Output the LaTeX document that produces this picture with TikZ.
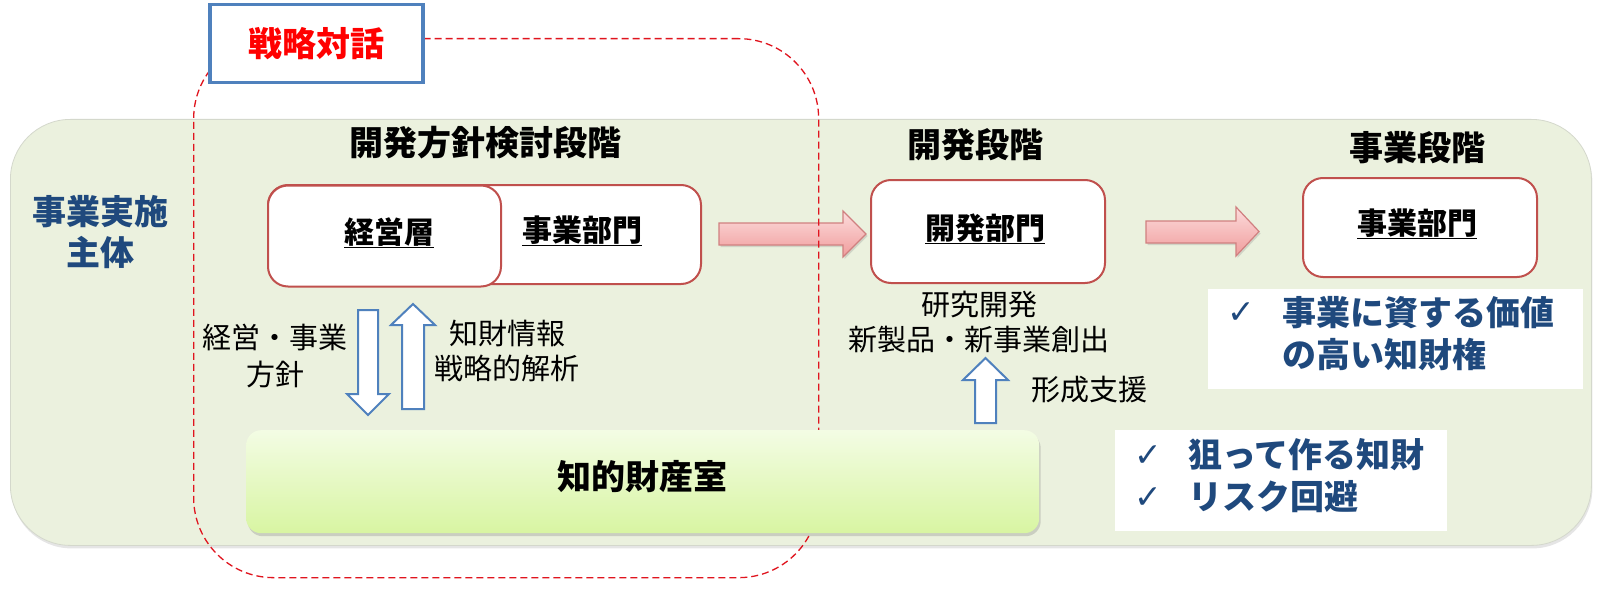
\documentclass[tikz,border=0pt]{standalone}
\usepackage{fontspec}
\setmainfont{Noto Sans CJK JP}
\newfontfamily\symfont{DejaVu Sans}
\usetikzlibrary{shadows}
\definecolor{bgG}{HTML}{EBF1DE}
\definecolor{bgLine}{HTML}{D4D8CC}
\definecolor{boxRed}{HTML}{C0504D}
\definecolor{aBlue}{HTML}{4F81BD}
\definecolor{dBlue}{HTML}{1F497D}
\definecolor{pinkTop}{HTML}{FCDCDC}
\definecolor{pinkBot}{HTML}{F09C9C}
\definecolor{pinkLine}{HTML}{D08080}
\definecolor{gTop}{HTML}{F3FCE4}
\definecolor{gBot}{HTML}{D8F5A2}
\definecolor{dashRed}{HTML}{E0141E}
\newcommand\fs[2]{\fontsize{#1}{#2}\selectfont}
\begin{document}
\begin{tikzpicture}[x=1pt,y=-1pt,
  rbox/.style={draw=boxRed, line width=2pt, fill=white, rounded corners=20pt, inner sep=0pt, anchor=north west},
  blockarrow/.style={draw=aBlue, line width=2pt, fill=white, line join=miter},
  pinkarrow/.style={draw=pinkLine, line width=1.2pt, top color=pinkTop, bottom color=pinkBot,
    drop shadow={opacity=0.25, shadow xshift=1.5pt, shadow yshift=-2pt}},
  lbl/.style={inner sep=0pt, align=center},
  head/.style={inner sep=0pt, font=\fs{34}{40}\bfseries},
  ul/.style={inner sep=0pt, anchor=base, font=\fs{30}{36}\bfseries},
  chk/.style={inner sep=0pt, text=dBlue, font=\fs{34}{42}\bfseries, align=left, anchor=west},
  tick/.style={inner sep=0pt, text=dBlue, font=\symfont\fs{33}{33}},
  notebox/.style={fill=white, inner sep=0pt, anchor=north west},
]
\useasboundingbox (0,0) rectangle (1600,591);
\fill[white] (0,0) rectangle (1600,591);

% stage background
\node[draw=bgLine, line width=0.8pt, fill=bgG, rounded corners=60pt, inner sep=0pt, anchor=north west,
  minimum width=1581pt, minimum height=426pt,
  drop shadow={opacity=0.2, shadow xshift=1pt, shadow yshift=-3pt}] (stage) at (10,119) {};

% headings
\node[head] (stage1) at (485,143) {開発方針検討段階};
\node[head] (stage2) at (975,145) {開発段階};
\node[head] (stage3) at (1417,148) {事業段階};
\node[head, text=dBlue, align=center, font=\fs{34}{41}\bfseries] (actor) at (100,232.5) {事業実施\\主体};

% organisation boxes
\node[rbox, minimum width=433pt, minimum height=99pt] (bizL) at (267,184) {};
\node[rbox, minimum width=233pt, minimum height=101pt] (mgmt) at (267,184.5) {};
\node[ul] (mgmtT) at (389,243) {\underline{経営層}};
\node[ul] (bizLT) at (582,241) {\underline{事業部門}};
\node[rbox, minimum width=234pt, minimum height=103pt] (dev) at (870,179) {};
\node[ul] (devT) at (985,239) {\underline{開発部門}};
\node[rbox, minimum width=234pt, minimum height=99pt] (bizR) at (1302,177) {};
\node[ul] (bizRT) at (1417,234) {\underline{事業部門}};

% notes
\node[notebox, minimum width=375pt, minimum height=100pt] (note1) at (1208,289) {};
\node[tick] (tick1) at (1241,313) {✓};
\node[chk] (note1T) at (1282,334) {事業に資する価値\\の高い知財権};
\node[notebox, minimum width=332pt, minimum height=101pt] (note2) at (1115,430) {};
\node[tick] (tick2) at (1148,456) {✓};
\node[tick] (tick3) at (1148,498) {✓};
\node[chk] (note2T) at (1188,476) {狙って作る知財\\リスク回避};

% labels
\node[lbl, font=\fs{29}{37}] (lblPolicy) at (275,356.5) {経営・事業\\方針};
\node[lbl, font=\fs{29}{35}] (lblInfo) at (507,350.5) {知財情報\\戦略的解析};
\node[lbl, font=\fs{29}{35}] (lblRD) at (979,322.5) {研究開発\\新製品・新事業創出};
\node[lbl, font=\fs{29}{35}] (lblSup) at (1089,390) {形成支援};

% blue hollow arrows
\draw[blockarrow] (358,310) -- (378,310) -- (378,394) -- (389,394) -- (368,415) -- (347,394) -- (358,394) -- cycle;
\draw[blockarrow] (402,409) -- (424,409) -- (424,325) -- (435,325) -- (413,304) -- (391,325) -- (402,325) -- cycle;
\draw[blockarrow] (975,423) -- (996,423) -- (996,380) -- (1008,380) -- (985.5,358) -- (963,380) -- (975,380) -- cycle;

% pink block arrows
\draw[pinkarrow] (719,223) -- (843,223) -- (843,211) -- (866,234) -- (843,257) -- (843,245) -- (719,245) -- cycle;
\draw[pinkarrow] (1146,221) -- (1236,221) -- (1236,207) -- (1259,231.5) -- (1236,256) -- (1236,243) -- (1146,243) -- cycle;

% strategic dialogue frame
\node[draw=dashRed, line width=1.3pt, dash pattern=on 7pt off 4pt, rounded corners=80pt, inner sep=0pt,
  anchor=north west, minimum width=625pt, minimum height=539pt] (dlgFrame) at (193,38) {};

% IP office (drawn over the frame)
\node[anchor=north west, inner sep=0pt, minimum width=793pt, minimum height=103pt, rounded corners=15pt,
  top color=gTop, bottom color=gBot,
  drop shadow={opacity=0.3, shadow xshift=1.5pt, shadow yshift=-3pt}] (ip) at (246,430) {};
\node[head] (ipT) at (642,477) {知的財産室};

\node[draw=aBlue, line width=3.5pt, fill=white, inner sep=0pt, anchor=north west,
  minimum width=213pt, minimum height=78pt, text=red, font=\fs{34}{40}\bfseries] (dialog) at (208,3) {戦略対話};
\end{tikzpicture}
\end{document}
